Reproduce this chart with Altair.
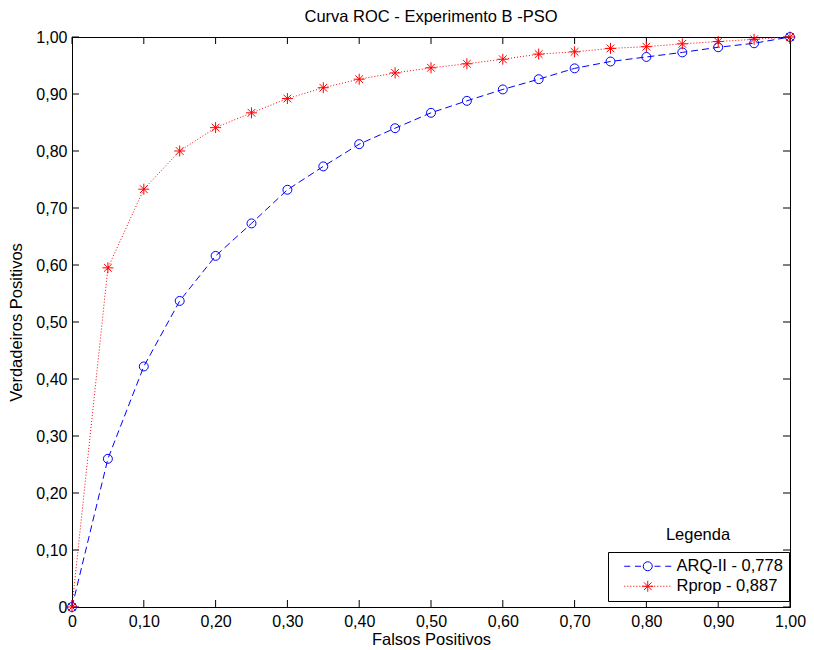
import altair as alt
import pandas as pd

# ---- data ----
fpr = [0.00, 0.05, 0.10, 0.15, 0.20, 0.25, 0.30, 0.35, 0.40, 0.45, 0.50,
       0.55, 0.60, 0.65, 0.70, 0.75, 0.80, 0.85, 0.90, 0.95, 1.00]
tpr_arq = [0.000, 0.260, 0.422, 0.537, 0.616, 0.673, 0.732, 0.773, 0.812, 0.840, 0.867,
           0.888, 0.908, 0.926, 0.945, 0.957, 0.965, 0.973, 0.982, 0.989, 1.000]
tpr_rprop = [0.000, 0.595, 0.733, 0.800, 0.841, 0.867, 0.892, 0.911, 0.926, 0.937, 0.946,
             0.953, 0.961, 0.970, 0.974, 0.980, 0.983, 0.988, 0.992, 0.996, 1.000]
series_names = ["ARQ-II - 0,778", "Rprop - 0,887"]
tick_values = [0.0, 0.1, 0.2, 0.3, 0.4, 0.5, 0.6, 0.7, 0.8, 0.9, 1.0]

title_text = "Curva ROC - Experimento B -PSO"
x_title = "Falsos Positivos"
y_title = "Verdadeiros Positivos"
legend_title = "Legenda"

FONT = "Liberation Sans, Arial, Helvetica, sans-serif"
W, H = 718, 570
TICK_LEN = 7

rows = []
for name, ys in zip(series_names, [tpr_arq, tpr_rprop]):
    for x, y in zip(fpr, ys):
        rows.append({"serie": name, "fpr": x, "tpr": y})
df = pd.DataFrame(rows)
ticks_df = pd.DataFrame({"t": tick_values})

# ---- symbol paths ----
asterisk = "M-1,0L1,0M0,-1L0,1M-0.7,-0.7L0.7,0.7M-0.7,0.7L0.7,-0.7"


def circle_path(r):
    return f"M{r},0A{r},{r},0,1,1,{-r},0A{r},{r},0,1,1,{r},0Z"


# legend symbols (unit = 5 px): line of 47 px with the marker in the middle
L = 4.7
leg_arq = (f"M{-L},0L-3.5,0M-2.55,0L-1.35,0M1.35,0L2.55,0M3.5,0L{L},0"
           + circle_path(0.9))
dots = []
k = -L
while k < L:
    dots.append(f"M{k:.2f},0L{k + 0.22:.2f},0")
    k += 0.6
s = 1.1
d = 0.7 * s
leg_rprop = ("".join(dots)
             + f"M{-s},0L{s},0M0,{-s}L0,{s}"
             + f"M{-d:.2f},{-d:.2f}L{d:.2f},{d:.2f}"
             + f"M{-d:.2f},{d:.2f}L{d:.2f},{-d:.2f}")

label_expr = "datum.value == 0 ? '0' : replace(format(datum.value, '.2f'), '.', ',')"

xscale = alt.Scale(domain=[0, 1], nice=False, zero=False)
yscale = alt.Scale(domain=[0, 1], nice=False, zero=False)

x_enc = alt.X("fpr:Q", scale=xscale, title=x_title,
              axis=alt.Axis(values=tick_values, labelExpr=label_expr, ticks=False,
                            grid=False, labelFlush=False, labelOverlap=False,
                            labelPadding=6, titlePadding=2))
y_enc = alt.Y("tpr:Q", scale=yscale, title=y_title,
              axis=alt.Axis(values=tick_values, labelExpr=label_expr, ticks=False,
                            grid=False, labelOverlap=False,
                            labelPadding=5, titlePadding=11))

base = alt.Chart(df).encode(x=x_enc, y=y_enc)

line_arq = base.transform_filter(alt.datum.serie == series_names[0]).mark_line(
    color="blue", strokeDash=[7, 4], strokeWidth=1)
pts_arq = base.transform_filter(alt.datum.serie == series_names[0]).mark_point(
    shape="circle", filled=False, color="blue", size=80, strokeWidth=1, opacity=1)
line_rprop = base.transform_filter(alt.datum.serie == series_names[1]).mark_line(
    color="red", strokeDash=[1, 2], strokeWidth=1)
pts_rprop = base.transform_filter(alt.datum.serie == series_names[1]).mark_point(
    shape=asterisk, filled=False, color="red", size=121, strokeWidth=1, opacity=1)

leg_props = dict(title=None, orient="none", legendX=536, legendY=515,
                 strokeColor="black", fillColor="white", padding=6,
                 symbolOffset=25.5, symbolSize=100, symbolStrokeWidth=1,
                 labelFont=FONT, labelFontSize=16.5, labelColor="black",
                 labelOffset=20.5, rowPadding=3, cornerRadius=0)
legend_layer = base.transform_filter("false").mark_point(
    filled=False, strokeWidth=1, opacity=1).encode(
    color=alt.Color("serie:N", scale=alt.Scale(domain=series_names, range=["blue", "red"]),
                    legend=alt.Legend(**leg_props)),
    shape=alt.Shape("serie:N", scale=alt.Scale(domain=series_names, range=[leg_arq, leg_rprop]),
                    legend=alt.Legend(**leg_props)),
)

tick_base = alt.Chart(ticks_df)
tick_bottom = tick_base.mark_rule(color="black", strokeWidth=1).encode(
    x=alt.X("t:Q", scale=xscale), y=alt.value(H), y2=alt.value(H - TICK_LEN))
tick_top = tick_base.mark_rule(color="black", strokeWidth=1).encode(
    x=alt.X("t:Q", scale=xscale), y=alt.value(0), y2=alt.value(TICK_LEN))
tick_left = tick_base.mark_rule(color="black", strokeWidth=1).encode(
    y=alt.Y("t:Q", scale=yscale), x=alt.value(0), x2=alt.value(TICK_LEN))
tick_right = tick_base.mark_rule(color="black", strokeWidth=1).encode(
    y=alt.Y("t:Q", scale=yscale), x=alt.value(W), x2=alt.value(W - TICK_LEN))

legend_title_layer = alt.Chart(pd.DataFrame({"t": [legend_title]})).mark_text(
    font=FONT, fontSize=16.5, color="black", align="center", baseline="middle").encode(
    x=alt.value(626), y=alt.value(498), text="t:N")

chart = alt.layer(
    tick_bottom, tick_top, tick_left, tick_right,
    line_arq, pts_arq, line_rprop, pts_rprop, legend_layer, legend_title_layer,
).properties(
    width=W, height=H, background="white", padding=0,
    title=alt.TitleParams(title_text, font=FONT, fontSize=16.5, fontWeight="normal",
                          color="black", anchor="middle", offset=4),
).configure_view(stroke="black", strokeWidth=1).configure_axis(
    domainColor="black", domainWidth=1,
    labelFont=FONT, labelFontSize=16, labelColor="black",
    titleFont=FONT, titleFontSize=16.5, titleFontWeight="normal", titleColor="black",
)

chart.save("out.html", embed_options={"renderer": "svg", "actions": False})
